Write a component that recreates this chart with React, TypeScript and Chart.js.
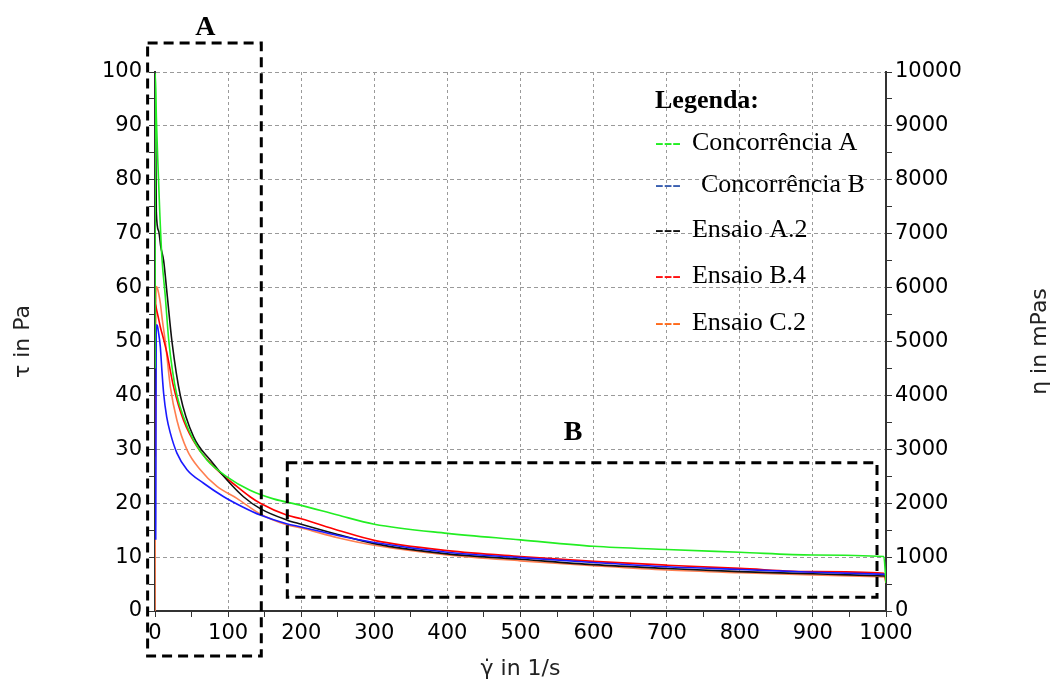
import React, { useEffect, useRef } from "react";
import { Chart, registerables } from "chart.js";

Chart.register(...registerables);

// ---- data ----
const seriesNames = ["Concorrência A", "Concorrência B", "Ensaio A.2", "Ensaio B.4", "Ensaio C.2"];
const lineColors = ["#22ee22", "#1a1aff", "#111111", "#ff0000", "#ff7f50"];
const legendDashColors = ["#22ee22", "#3a5fb0", "#111111", "#ff1010", "#ff6a1a"];

const greenX = [0, 0.4, 2, 4, 6.5, 9.5, 14, 18.6, 24, 30, 39, 52.8, 71, 98.5, 130, 162, 200, 250, 300, 400, 500, 600, 700, 800, 900, 997, 1000];
const greenY = [45, 99.8, 91, 83, 74, 65.5, 58.5, 50.5, 44.5, 40, 36, 31.7, 28, 24.9, 22.4, 20.8, 19.6, 17.8, 16.1, 14.4, 13.2, 12.0, 11.4, 10.9, 10.4, 10.1, 5.2];

const blueX = [1, 1.8, 3, 5, 7.3, 9.5, 11.8, 16, 21, 30, 43.8, 66.5, 94, 120, 144, 180, 200, 250, 300, 400, 500, 600, 700, 800, 900, 1000];
const blueY = [13.2, 53.1, 53, 51.5, 49, 44.5, 40.4, 36, 33, 29.3, 26.2, 23.7, 21.2, 19.3, 17.8, 16.2, 15.6, 14, 12.7, 10.9, 9.9, 9.0, 8.2, 7.7, 7.2, 6.8];

const blackX = [0, 0.5, 1, 1.8, 5, 8, 11.8, 16.4, 23.2, 34.6, 52.8, 75.6, 98.5, 121, 144, 180, 200, 250, 300, 400, 500, 600, 700, 800, 900, 1000];
const blackY = [40, 92, 88, 74, 70.5, 67.5, 65, 59, 50, 40, 32.3, 28, 24.3, 21.2, 19, 16.9, 16.1, 14.2, 12.5, 10.6, 9.6, 8.6, 7.9, 7.3, 6.9, 6.5];

const redX = [0, 0.3, 2, 4.5, 7.3, 11.8, 16.4, 25.4, 39, 57.5, 84.8, 112, 130, 144, 180, 200, 250, 300, 400, 500, 600, 700, 800, 900, 997, 1000];
const redY = [28.6, 57, 56, 54.5, 52.7, 50.4, 47.8, 41.6, 35.4, 30.5, 26.2, 23.1, 21.2, 20, 17.8, 17.1, 15, 13.1, 11.2, 10.1, 9.2, 8.5, 7.9, 7.3, 7.0, 5.2];

const orangeX = [0, 1.5, 3, 7.3, 10, 14, 21, 30, 43.8, 62, 84.8, 112, 144, 180, 200, 250, 300, 400, 500, 600, 700, 800, 900, 1000];
const orangeY = [0, 60.2, 60, 57.1, 54, 50.1, 41.6, 35.4, 29.9, 26.2, 23.1, 20.9, 18, 16, 15.4, 13.6, 12.2, 10.4, 9.3, 8.4, 7.6, 7.1, 6.7, 6.3];

const seriesX = [greenX, blueX, blackX, redX, orangeX];
const seriesY = [greenY, blueY, blackY, redY, orangeY];

// axes
const xRange = [0, 1000];
const tauRange = [0, 100];
const etaRange = [0, 10000];

// annotation boxes (data units) and their labels
const boxNames = ["A", "B"];
const boxX0 = [-10.1, 181];
const boxX1 = [145.4, 987.7];
const boxY0 = [-8.35, 2.54];
const boxY1 = [105.4, 27.5];
const boxLabelX = [68.8, 572];
const boxLabelY = [108.2, 33];

const SANS = '"DejaVu Sans", sans-serif';
const SERIF = '"Liberation Serif", "Times New Roman", serif';

const overlayPlugin = {
  id: "overlay",
  afterDraw(chart: any) {
    const { ctx, scales } = chart;
    const x = scales.x;
    const y = scales.y;
    ctx.save();
    // dashed boxes
    ctx.strokeStyle = "#000";
    ctx.lineWidth = 3;
    ctx.setLineDash([10, 6]);
    for (let i = 0; i < boxNames.length; i++) {
      const px0 = x.getPixelForValue(boxX0[i]);
      const px1 = x.getPixelForValue(boxX1[i]);
      const py0 = y.getPixelForValue(boxY0[i]);
      const py1 = y.getPixelForValue(boxY1[i]);
      ctx.strokeRect(px0, py1, px1 - px0, py0 - py1);
    }
    ctx.setLineDash([]);
    ctx.fillStyle = "#000";
    ctx.font = `bold 28px ${SERIF}`;
    ctx.textAlign = "center";
    ctx.textBaseline = "middle";
    for (let i = 0; i < boxNames.length; i++) {
      ctx.fillText(boxNames[i], x.getPixelForValue(boxLabelX[i]), y.getPixelForValue(boxLabelY[i]));
    }

    // legend
    ctx.textAlign = "left";
    ctx.textBaseline = "alphabetic";
    ctx.font = `bold 26px ${SERIF}`;
    ctx.fillStyle = "#000";
    const lx = 655;
    ctx.fillText("Legenda:", lx, 108);
    const baselines = [150, 192, 237, 283, 330];
    ctx.font = `26px ${SERIF}`;
    for (let i = 0; i < seriesNames.length; i++) {
      ctx.fillStyle = legendDashColors[i];
      ctx.fillText("---", lx, baselines[i]);
      const w = ctx.measureText("---").width;
      ctx.fillStyle = "#000";
      const gap = i === 1 ? 20 : 11;
      ctx.fillText(seriesNames[i], lx + w + gap, baselines[i]);
    }

    // right axis title (reads bottom-to-top)
    const r = scales.yRight;
    ctx.font = `22px ${SANS}`;
    ctx.fillStyle = "#222";
    ctx.textAlign = "center";
    ctx.textBaseline = "middle";
    ctx.translate(chart.width - 11, (r.top + r.bottom) / 2);
    ctx.rotate(-Math.PI / 2);
    ctx.fillText("η in mPas", 0, 0);
    ctx.restore();
  },
};

export default function App() {
  const ref = useRef<HTMLCanvasElement>(null);

  useEffect(() => {
    document.body.style.margin = "0";
    const canvas = ref.current!;
    const datasets = seriesNames.map((name, i) => ({
      label: name,
      data: seriesX[i].map((xv, j) => ({ x: xv, y: seriesY[i][j] })),
      borderColor: lineColors[i],
      backgroundColor: lineColors[i],
      borderWidth: 1.6,
      pointRadius: 0,
      fill: false,
      cubicInterpolationMode: "monotone" as const,
      yAxisID: "y",
    }));

    const tickFont = { family: SANS, size: 21 };
    const gridColorFn = (mod: number) => (c: any) =>
      c.tick && Math.round(c.tick.value) % mod === 0 ? "#9a9a9a" : "rgba(0,0,0,0)";

    const chart = new Chart(canvas, {
      type: "line",
      data: { datasets },
      options: {
        animation: false,
        responsive: false,
        devicePixelRatio: 1,
        layout: { padding: { top: 72, left: 0, right: 0, bottom: 0 } },
        plugins: { legend: { display: false }, tooltip: { enabled: false } },
        scales: {
          x: {
            type: "linear",
            min: xRange[0],
            max: xRange[1],
            afterFit: (s: any) => {
              s.height = 71;
            },
            ticks: {
              stepSize: 50,
              autoSkip: false,
              maxRotation: 0,
              padding: 4,
              color: "#000",
              font: tickFont,
              callback: (v: any) => (Math.round(v) % 100 === 0 ? String(v) : ""),
            },
            grid: {
              color: gridColorFn(100),
              lineWidth: 1,
              tickLength: 6,
              tickColor: "#333",
              tickBorderDash: [],
            },
            border: { display: true, color: "#333", width: 2, dash: [3, 3] },
            title: {
              display: true,
              text: "γ̇ in 1/s",
              color: "#222",
              font: { family: SANS, size: 22, lineHeight: 1 },
              padding: { top: 0, bottom: 2 },
            },
          },
          y: {
            type: "linear",
            position: "left",
            min: tauRange[0],
            max: tauRange[1],
            afterFit: (s: any) => {
              s.width = 155;
            },
            ticks: {
              stepSize: 5,
              autoSkip: false,
              padding: 7,
              color: "#000",
              font: tickFont,
              callback: (v: any) => (Math.round(v) % 10 === 0 ? String(v) : ""),
            },
            grid: {
              color: gridColorFn(10),
              lineWidth: 1,
              tickLength: 6,
              tickColor: "#333",
              tickBorderDash: [],
            },
            border: { display: true, color: "#333", width: 2, dash: [4, 3] },
            title: {
              display: true,
              text: "τ in Pa",
              color: "#222",
              font: { family: SANS, size: 22, lineHeight: 1 },
              padding: { top: 12, bottom: 0 },
            },
          },
          yRight: {
            type: "linear",
            position: "right",
            display: true,
            min: etaRange[0],
            max: etaRange[1],
            afterFit: (s: any) => {
              s.width = 165;
            },
            ticks: {
              stepSize: 500,
              autoSkip: false,
              padding: 3,
              color: "#000",
              font: tickFont,
              callback: (v: any) => (Math.round(v) % 1000 === 0 ? String(v) : ""),
            },
            grid: {
              drawOnChartArea: false,
              color: "#333",
              tickLength: 6,
              tickColor: "#333",
              tickBorderDash: [],
            },
            border: { display: true, color: "#333", width: 2 },
          },
        },
      },
      plugins: [overlayPlugin],
    } as any);

    return () => chart.destroy();
  }, []);

  return (
    <div style={{ width: 1051, height: 682 }}>
      <canvas ref={ref} width={1051} height={682} style={{ display: "block" }} />
    </div>
  );
}
